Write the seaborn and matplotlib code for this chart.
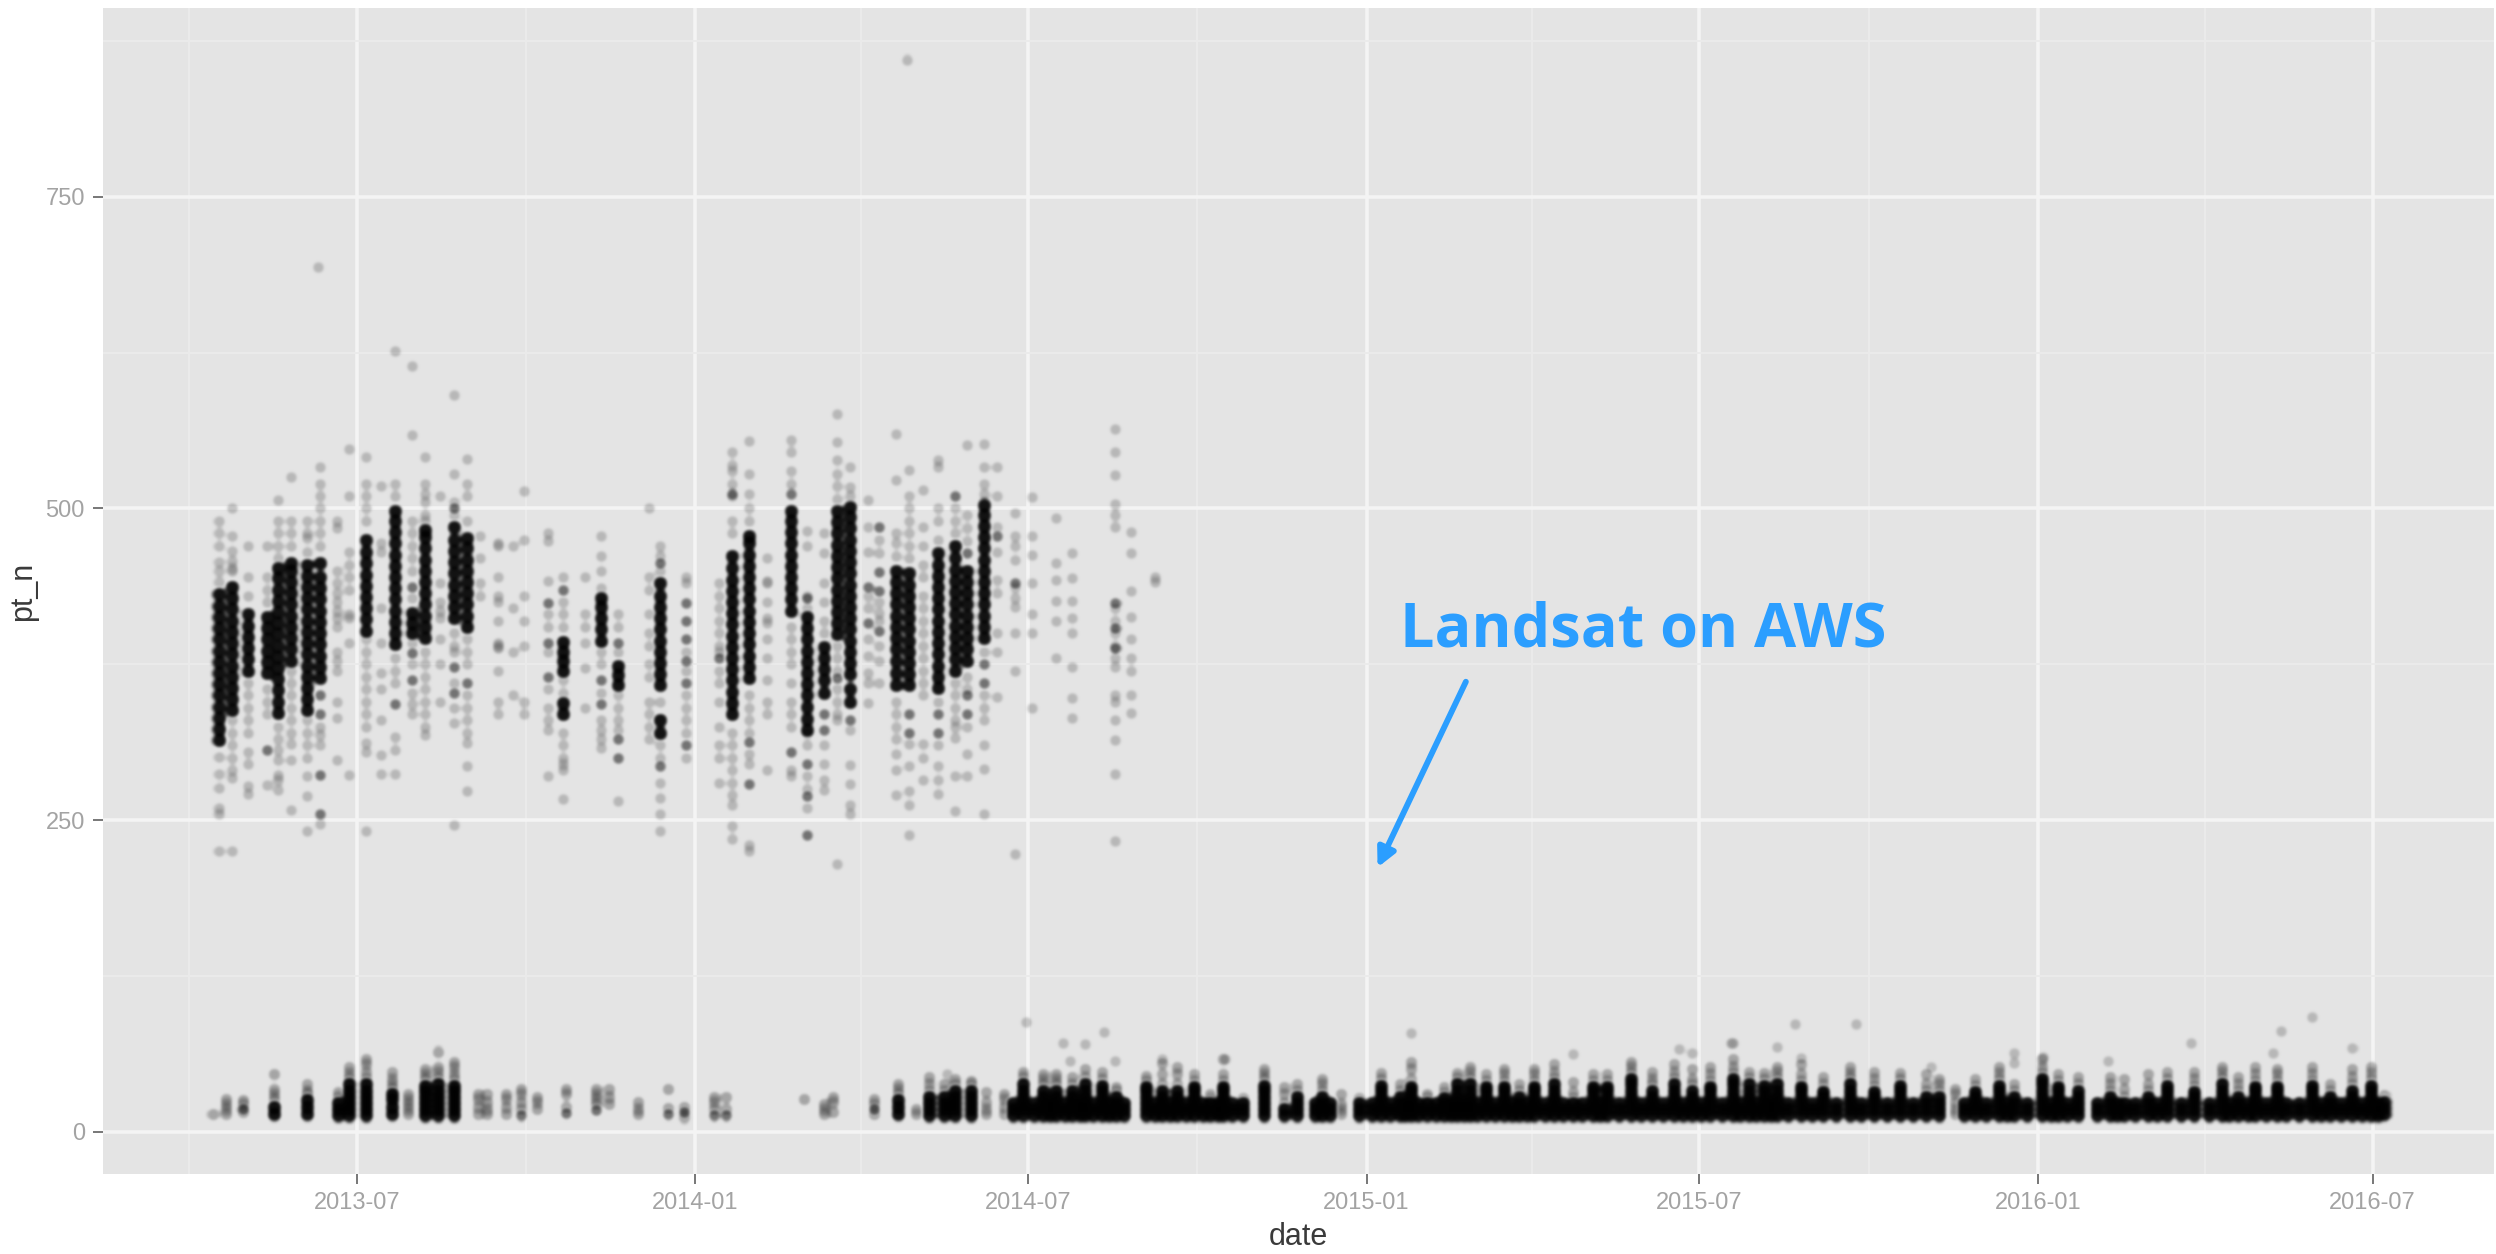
import numpy as np
import pandas as pd
import matplotlib
matplotlib.use('Agg')
import matplotlib.pyplot as plt
import matplotlib.dates as mdates
from matplotlib.ticker import FixedLocator
import seaborn as sns

# Upper band: one entry per scene date
upper_dates = ['2013-04-17','2013-04-24','2013-05-03','2013-05-13','2013-05-19','2013-05-26','2013-06-04','2013-06-11',
               '2013-06-20','2013-06-27','2013-07-06','2013-07-14','2013-07-22','2013-07-31','2013-08-07','2013-08-15',
               '2013-08-23','2013-08-30','2013-09-06','2013-09-16','2013-09-24','2013-09-30','2013-10-13','2013-10-21',
               '2013-11-02','2013-11-11','2013-11-20','2013-12-07','2013-12-13','2013-12-27','2014-01-14','2014-01-21',
               '2014-01-30','2014-02-09','2014-02-22','2014-03-03','2014-03-12','2014-03-19','2014-03-26','2014-04-05',
               '2014-04-11','2014-04-20','2014-04-27','2014-05-05','2014-05-13','2014-05-22','2014-05-29','2014-06-07',
               '2014-06-14','2014-06-24','2014-07-03','2014-07-16','2014-07-25','2014-08-17','2014-08-26','2014-09-08']

# the black cores
upper_dense = [
    [314,323,332,341,350,359,368,377,386,395,404,413,422,431],
    [338,347,356,365,374,383,392,401,410,419,428,437],
    [370,379,388,397,406,415],
    [368,377,386,395,404,413,306],
    [336,345,354,363,372,381,390,399,408,417,426,435,444,452],
    [378,387,396,405,414,423,432,441,450,456],
    [338,347,356,365,374,383,392,401,410,419,428,437,446,455],
    [364,373,382,391,400,409,418,427,436,445,456,350,335,286,255],
    [], [],
    [402,411,420,429,438,447,456,465,475],
    [],
    [391,400,409,418,427,436,445,454,463,472,481,490,498,343],
    [437,416,408,400,384,362],
    [396,405,414,423,432,441,450,459,468,477,483],
    [],
    [412,421,430,439,448,457,466,475,485,373,352,500],
    [405,414,423,432,441,450,459,468,476,360],
    [], [], [], [],
    [424,392,365],
    [435,393,385,378,370,344,335],
    [],
    [394,403,412,421,428,362,343],
    [392,374,366,358,315,300],
    [],
    [358,367,376,385,394,403,412,421,430,440,456,330,320,293],
    [424,410,395,378,360,310],
    [380],
    [335,344,353,362,371,380,389,398,407,416,425,434,443,452,462,512],
    [364,373,382,391,400,409,418,427,436,445,454,463,472,478,313,279],
    [],
    [418,427,436,445,454,463,472,481,490,498,512,305],
    [322,331,341,350,359,368,377,386,395,404,413,428,295,269,238],
    [389,380,371,362,352,335,322],
    [399,408,417,426,435,444,453,462,471,480,489,498,364],
    [367,376,385,394,403,412,421,430,439,448,457,466,475,484,493,501,355,345,330],
    [437,408],
    [485,449,434,402],
    [358,368,378,387,396,405,414,423,432,441,450],
    [358,367,376,385,394,403,412,421,430,439,448,335,320],
    [],
    [356,365,374,383,392,401,410,419,428,437,446,455,464,335,320],
    [370,379,388,397,406,415,424,433,442,451,460,470,510],
    [378,387,396,405,414,423,432,441,450,464,350,335],
    [396,405,414,423,432,441,450,459,468,477,486,495,503,375,360],
    [478], [440], [], [], [], [424,404,388],
    [], [],
]

# the grey points round them
upper_faint = [
    [301,287,276,260,255,225,441,450,457,470,480,490],
    [500,478,466,458,450,452,330,320,310,300,290,284,225],
    [320,330,340,350,360,271,277,295,305,430,445,470],
    [335,345,355,425,435,445,278,470],
    [460,470,480,490,507,325,315,306,298,286,274,282],
    [370,360,350,340,330,320,311,298,258,525,480,490,470],
    [330,320,310,300,285,269,241,465,480,490,476],
    [325,318,310,247,470,480,490,500,510,533,520],
    [490,484,450,440,432,425,418,412,405,385,378,370,345,332,298],
    [548,510,465,455,445,435,415,392,286,412],
    [490,500,510,520,541,395,385,375,365,355,345,335,325,312,305,241],
    [518,472,420,392,368,355,330,302,287,465],
    [510,520,380,370,360,317,306,287,626],
    [490,480,470,460,450,428,392,375,352,343,335,559,614],
    [541,520,512,505,495,490,385,375,365,355,345,335,325,318],
    [510,440,425,418,412,395,375,345],
    [528,505,495,400,390,385,360,340,328,591,246],
    [540,520,510,490,395,385,375,350,340,330,320,312,293,273],
    [478,460,430,440],
    [472,470,445,430,425,410,392,388,390,370,335,345],
    [470,420,385,350],
    [514,475,430,410,390,345,335],
    [480,474,442,415,405,385,355,340,330,322,285],
    [445,425,415,405,362,352,320,310,300,290,267,295],
    [415,405,392,372,340,445],
    [478,462,450,436,385,375,352,330,322,315,308],
    [415,405,385,350,340,330,322,265],
    [500,445,435,415,400,390,375,365,345,325,335,315],
    [470,462,450,345,310,300,280,268,255,241],
    [440,445,385,370,350,340,330,320,300],
    [440,430,420,410,400,390,385,370,360,345,325,310,300,280],
    [490,480,510,520,530,545,535,320,310,300,290,280,270,262,235,245],
    [350,340,330,320,303,295,490,500,512,528,554,230,225],
    [460,440,425,412,408,395,380,362,345,335,290,442],
    [405,395,385,375,360,345,335,325,520,530,545,555,290,285],
    [420,430,482,470,320,310,285,275,260],
    [480,464,440,425,410,400,310,295,282,274],
    [508,518,528,539,553,576,390,380,370,355,345,335,215,330],
    [510,517,533,322,294,279,262,255],
    [507,485,465,430,420,395,382,368,360,344],
    [464,475,425,416,410,390,378,360],
    [462,472,480,523,560,345,335,325,315,303,290,270],
    [460,470,480,490,500,510,531,311,293,273,262,238],
    [485,470,455,445,430,420,410,400,390,380,370,360,350,311,300,282,515],
    [475,490,500,539,533,345,310,293,282,271],
    [480,490,500,360,350,340,330,325,316,285,257],
    [474,484,495,365,355,325,303,285,551],
    [512,520,533,552,385,350,340,330,310,291,255],
    [533,510,485,465,443,432,400,385,349],
    [496,478,470,459,437,428,421,400,370,223],
    [509,478,463,440,415,400,340],
    [492,456,443,426,410,380],
    [464,444,426,412,400,373,348,332],
    [564,545,527,504,495,485,420,410,400,390,380,373,350,345,330,314,287,233],
    [481,464,434,413,395,380,370,350,336],
    [445,441],
]

# Lower band, one list per scene date
lower_dates = ['2013-04-14','2013-04-21','2013-04-30','2013-05-17','2013-06-04','2013-06-21','2013-06-27','2013-07-06',
               '2013-07-20','2013-07-29','2013-08-07','2013-08-14','2013-08-23','2013-09-05','2013-09-10','2013-09-20',
               '2013-09-28','2013-10-07','2013-10-23','2013-11-08','2013-11-15','2013-12-01','2013-12-17','2013-12-26',
               '2014-01-11','2014-01-18','2014-03-01','2014-03-12','2014-03-17','2014-04-08','2014-04-21','2014-05-01',
               '2014-05-08','2014-05-16','2014-05-22','2014-05-31','2014-06-08','2014-06-18','2014-06-28','2014-07-09',
               '2014-07-16','2014-07-25','2014-08-01','2014-08-10','2014-08-18','2014-09-03','2014-09-12','2014-09-20',
               '2014-09-29','2014-10-08','2014-10-15','2014-10-26','2014-11-06','2014-11-17','2014-11-24','2014-12-08',
               '2014-12-18','2014-12-28','2015-01-09','2015-01-19','2015-01-25','2015-02-03','2015-02-12','2015-02-19',
               '2015-02-26','2015-03-07','2015-03-17','2015-03-25','2015-04-02','2015-04-13','2015-04-23','2015-05-04',
               '2015-05-12','2015-05-25','2015-06-05','2015-06-17','2015-06-27','2015-07-07','2015-07-19','2015-07-28',
               '2015-08-05','2015-08-12','2015-08-25','2015-09-06','2015-09-21','2015-10-04','2015-10-18','2015-11-01',
               '2015-11-08','2015-11-17','2015-11-28','2015-12-11','2015-12-19','2016-01-03','2016-01-12','2016-01-23',
               '2016-02-09','2016-02-17','2016-03-01','2016-03-11','2016-03-26','2016-04-10','2016-04-19','2016-04-28',
               '2016-05-10','2016-05-29','2016-06-08','2016-06-20','2016-06-30','2016-07-07']

lower_dense = [
    [], [], [18], [14,20], [14,20,25], [13,18,23], [13,18,23,28,33,38], [13,18,23,28,33,38],
    [14,20,26,30], [], [13,18,23,28,33,37], [13,18,23,28,33,38], [13,18,23,28,33,37], [], [], [],
    [13], [], [15], [17], [], [], [14], [16],
    [13], [13], [], [], [], [18], [14,20,25], [],
    [13,18,23,28], [13,18,23,28], [13,18,23,28,33], [13,18,23,28,33], [], [], [13,18,23,28,33,38], [13,18,23,28,33],
    [13,18,23,28,33], [13,18,23,28,33], [13,18,23,28,33,38], [13,18,23,28,33,37], [13,18,23,28], [13,18,23,28,33,36], [13,18,23,28,33], [13,18,23,28,33],
    [13,18,23,28,33,36], [13,18,23], [13,18,23,28,33,36], [13,18,23], [13,18,23,28,33,37], [13,18], [13,18,23,28], [13,18,23,28],
    [], [13,18,23], [13,18,23,28,33,37], [13,18,23,28], [13,18,23,28,33,36], [13,18,23], [13,18,23,27], [13,18,23,28,33,38],
    [13,18,23,28,33,38], [13,18,23,28,33,36], [13,18,23,28,33,36], [13,18,23,28], [13,18,23,28,33,36], [13,18,23,28,33,38], [13,18,23], [13,18,23,28,33,36],
    [13,18,23,28,33,36], [13,18,23,28,33,38,42], [13,18,23,28,33], [13,18,23,28,33,38], [13,18,23,28,33], [13,18,23,28,33,36], [13,18,23,28,33,38,42], [13,18,23,28,33,38],
    [13,18,23,28,33,37], [13,18,23,28,33,38], [13,18,23,28,33,36], [13,18,23,28,32], [13,18,23,28,33,38], [13,18,23,28,32], [13,18,23,28,33,37], [13,18,23,28],
    [13,18,23,28], [], [13,18,23,28,32], [13,18,23,28,33,37], [13,18,23,28], [13,18,23,28,33,38,42], [13,18,23,28,33,36], [13,18,23,28,33],
    [13,18,23,28], [13,18,23], [13,18,23,28], [13,18,23,28,33,37], [13,18,23,28,32], [13,18,23,28,33,38], [13,18,23,28], [13,18,23,28,33,36],
    [13,18,23,28,33,36], [13,18,23,28,33,37], [13,18,23,28], [13,18,23,28,33], [13,18,23,28,33,37], [14,19,24],
]

lower_faint = [
    [14], [14,18,22,26], [16,22,25], [26,30,34,46], [30,33,38], [28,32], [43,47,52], [43,48,54,58],
    [34,38,42,48], [14,18,22,26,30], [42,46,50], [43,48,52,64], [42,46,52,56], [14,20,26,30], [14,18,24,30], [14,20,26,30],
    [18,24,30,34], [18,24,28], [20,30,34], [22,26,30,34], [22,28,34], [14,18,24], [19,34], [12,20],
    [18,24,28], [18,28], [26], [14,18,22], [16,24,28], [14,22,26], [30,34,38], [14,18],
    [33,38,44], [33,38], [38,42], [38,41], [14,18,24,32], [14,20,26,30], [44,48], [38,42,46],
    [38,42,46], [38,44], [44,50], [42,48], [33,36], [41,45], [38,46,55], [38,46,52],
    [41,46], [26,30], [41,46,58], [27], [42,46,50], [23,30,36], [33,38], [33,38,42],
    [14,18,22,30], [27], [42,47], [33,38], [42,50,56], [27,30], [31,36], [43,47],
    [43,48,52], [41,46], [41,46,50], [33,38], [41,46,50], [43,48,54], [27,32,40], [41,46],
    [41,46], [47,52,56], [38,42,48], [43,48,54], [38,42,50], [41,46,52], [47,52,58], [43,48],
    [42,47], [43,48,52], [41,46,54], [33,38,44], [43,47,52], [37,42,48], [42,47], [33,38,46],
    [33,38,42], [14,18,24,30,34], [37,42], [42,47,52], [33,38], [47,52,58], [41,46], [38,44],
    [33,38,44], [28,34,42], [33,38,46], [42,48], [37,42,48], [43,48,52], [33,38,44], [41,46,52],
    [41,46,50], [41,46,52], [33,38], [38,44,50], [42,47,52], [29],
]

# Short runs where the base of the lower band is solid black
fill_dates = ['2014-06-23','2014-07-04','2014-07-13','2014-07-21','2014-07-29','2014-08-05','2014-08-14','2014-08-22',
              '2014-09-08','2014-09-16','2014-09-25','2014-10-04','2014-10-12','2014-10-20','2014-12-04','2014-12-12',
              '2015-01-04','2015-01-14','2015-01-22','2015-01-29','2015-02-08','2015-02-16','2015-02-23','2015-03-02',
              '2015-03-12','2015-03-21','2015-03-29','2015-04-08','2015-04-18','2015-04-28','2015-05-08','2015-05-18',
              '2015-05-30','2015-06-11','2015-06-22','2015-07-02','2015-07-13','2015-07-23','2015-08-01','2015-08-09',
              '2015-08-18','2015-08-31','2015-09-13','2015-09-27','2015-10-11','2015-10-25','2015-11-22','2015-12-04',
              '2015-12-15','2015-12-26','2016-01-08','2016-01-17','2016-02-02','2016-02-13','2016-02-23','2016-03-06',
              '2016-03-19','2016-04-03','2016-04-14','2016-04-24','2016-05-04','2016-05-15','2016-05-22','2016-06-03',
              '2016-06-14','2016-06-25','2016-07-04']
fill_values = [13,18,23]

# Stray points above the lower band
stray_dates = ['2014-06-30','2014-07-20','2014-07-24','2014-08-01','2014-08-11','2014-08-17','2014-09-12','2014-10-16',
               '2015-01-25','2015-04-23','2015-06-20','2015-06-27','2015-07-19','2015-07-18','2015-08-22','2015-09-24',
               '2015-08-12','2015-08-25','2015-11-04','2015-12-19','2015-12-19','2016-01-04','2016-03-24','2016-05-12',
               '2016-05-29','2016-06-20','2016-05-08','2016-02-08','2013-06-10','2014-04-26','2014-05-18']
stray_values = [88,71,57,70,80,57,58,58,79,62,66,63,71,71,86,86,68,59,52,63,55,60,71,81,92,67,63,57,694,860,46]

month_ticks = ['2013-07','2014-01','2014-07','2015-01','2015-07','2016-01','2016-07']
minor_ticks = ['2013-04','2013-10','2014-04','2014-10','2015-04','2015-10','2016-04']
y_ticks = [0,250,500,750]
y_minor = [125,375,625,875]


def long_table(dates, values):
    df = pd.DataFrame({'date': pd.to_datetime(dates), 'pt_n': values}).explode('pt_n').dropna()
    df['pt_n'] = df['pt_n'].astype(float)
    return df


def has_neighbour(group):
    # a dense value with nothing close to it in its column is only a dark spot
    vals = group.to_numpy()
    return pd.Series([(np.abs(vals - v) < 12).sum() > 1 for v in vals], index=group.index)


def soften(image, dpi):
    # the reference is an upscaled screenshot, so the marks are soft
    pad = 4
    img = np.pad(image, ((pad, pad), (pad, pad), (0, 0)))
    for axis in (0, 1):
        for _ in range(2):
            img = (np.roll(img, 1, axis) + img + np.roll(img, -1, axis)) / 3
    return img, -pad, -pad


faint_df = pd.concat([long_table(upper_dates, upper_faint),
                      pd.DataFrame({'date': pd.to_datetime(stray_dates), 'pt_n': stray_values})])
halo_df = long_table(lower_dates, lower_faint)
dense_df = pd.concat([long_table(upper_dates, upper_dense), long_table(lower_dates, lower_dense),
                      long_table(fill_dates, [fill_values] * len(fill_dates))]).reset_index(drop=True)
core_mask = dense_df.groupby('date')['pt_n'].transform(has_neighbour).astype(bool)
core_df = dense_df[core_mask]
spot_df = dense_df[~core_mask]

sns.set_style('darkgrid', {'axes.facecolor': '#e4e4e4', 'figure.facecolor': 'white'})
plt.rcParams['font.family'] = ['Liberation Sans', 'DejaVu Sans']

fig = plt.figure(figsize=(24.96, 12.54), dpi=100)
ax = fig.add_axes([103 / 2496, 80 / 1254, 2391 / 2496, 1166 / 1254])

sns.scatterplot(data=faint_df, x='date', y='pt_n', color='black', alpha=0.2, s=72, linewidth=0, ax=ax, zorder=3)
sns.scatterplot(data=halo_df, x='date', y='pt_n', color='black', alpha=0.28, s=85, linewidth=0, ax=ax, zorder=3)
sns.scatterplot(data=spot_df, x='date', y='pt_n', color='black', alpha=0.5, s=72, linewidth=0, ax=ax, zorder=4)
sns.scatterplot(data=core_df, x='date', y='pt_n', color='black', alpha=0.92, s=110, linewidth=0, ax=ax, zorder=5)
for coll in ax.collections:
    coll.set_agg_filter(soften)

ax.set_xlim(pd.Timestamp('2013-02-13'), pd.Timestamp('2016-09-05'))
ax.set_ylim(-34, 901.6)
ax.set_xticks(pd.to_datetime(month_ticks))
ax.xaxis.set_major_formatter(mdates.DateFormatter('%Y-%m'))
ax.xaxis.set_minor_locator(FixedLocator(mdates.date2num(pd.to_datetime(minor_ticks))))
ax.set_yticks(y_ticks)
ax.yaxis.set_minor_locator(FixedLocator(y_minor))

ax.set_axisbelow(True)
ax.grid(True, which='major', color='#f4f4f4', linewidth=2.6)
ax.grid(True, which='minor', color='#ebebeb', linewidth=1.3)
ax.tick_params(which='major', length=7, width=1.4, color='#777777', labelcolor='#a3a3a3', labelsize=17, pad=6,
               bottom=True, left=True)
ax.tick_params(which='minor', length=0)
for spine in ax.spines.values():
    spine.set_visible(False)

ax.set_xlabel('date', fontsize=22, color='#3a3a3a', labelpad=6)
ax.set_ylabel('pt_n', fontsize=22, color='#3a3a3a', labelpad=5)

ax.text(pd.Timestamp('2015-01-19'), 389, 'Landsat on AWS', color='#2b9eff', fontsize=44, fontweight='bold',
        family='Open Sans', va='baseline', ha='left', zorder=6)
ax.annotate('', xy=(pd.Timestamp('2015-01-07'), 212), xytext=(pd.Timestamp('2015-02-24'), 361),
            arrowprops=dict(arrowstyle='-|>,head_length=1.1,head_width=0.55', color='#2b9eff', lw=4.2,
                            shrinkA=0, shrinkB=0), zorder=6)

fig.savefig('out.png', dpi=100)
